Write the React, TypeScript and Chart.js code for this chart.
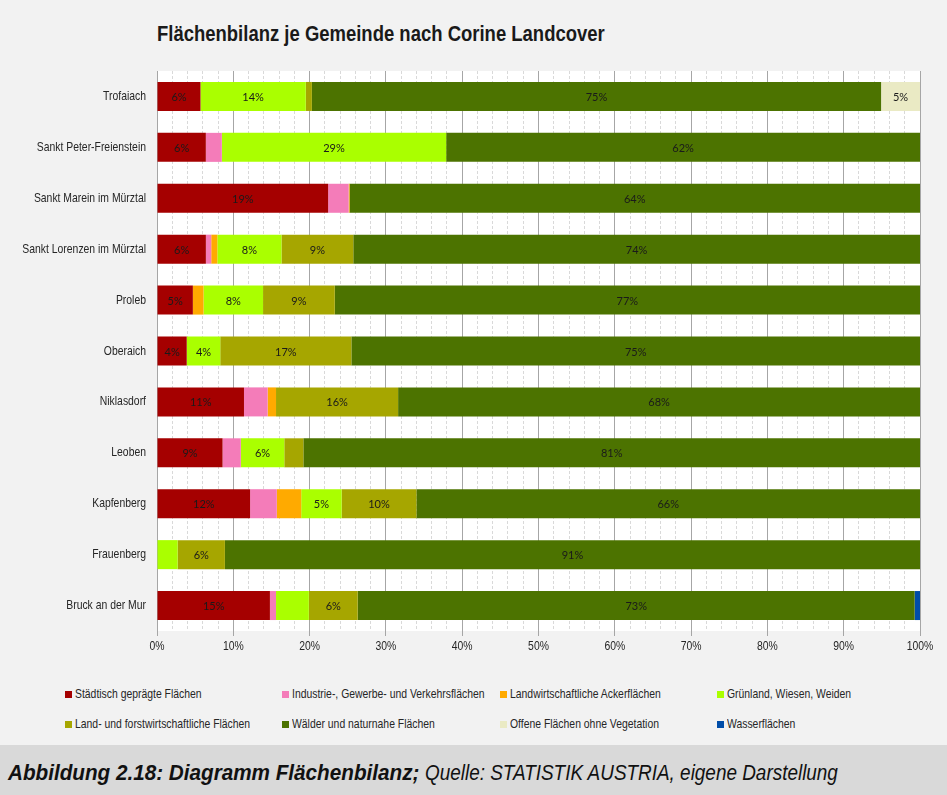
import React, { useEffect, useRef } from "react";
import { Chart, registerables } from "chart.js";

Chart.register(...registerables);

const categories = [
  "Trofaiach",
  "Sankt Peter-Freienstein",
  "Sankt Marein im Mürztal",
  "Sankt Lorenzen im Mürztal",
  "Proleb",
  "Oberaich",
  "Niklasdorf",
  "Leoben",
  "Kapfenberg",
  "Frauenberg",
  "Bruck an der Mur",
];

const seriesNames = [
  "Städtisch geprägte Flächen",
  "Industrie-, Gewerbe- und Verkehrsflächen",
  "Landwirtschaftliche Ackerflächen",
  "Grünland, Wiesen, Weiden",
  "Land- und forstwirtschaftliche Flächen",
  "Wälder und naturnahe Flächen",
  "Offene Flächen ohne Vegetation",
  "Wasserflächen",
];

const seriesColors = [
  "#a50000",
  "#f47cb9",
  "#ffaa00",
  "#aaff00",
  "#a6a600",
  "#4c7300",
  "#eaeac4",
  "#004da8",
];

// raw shares (percent) per municipality, same order as categories
const staedtisch = [5.7, 6.4, 19.2, 6.4, 4.7, 3.9, 11.4, 8.6, 12.2, 0, 14.8];
const industrie = [0, 2.1, 2.3, 0.7, 0, 0, 3.1, 2.4, 3.5, 0, 0.8];
const acker = [0, 0, 0.1, 0.8, 1.4, 0, 1.1, 0, 3.2, 0, 0];
const gruenland = [13.8, 29.4, 0, 8.4, 7.8, 4.4, 0, 5.7, 5.3, 2.7, 4.3];
const landForst = [0.8, 0, 0, 9.4, 9.4, 17.2, 16.0, 2.5, 9.8, 6.2, 6.4];
const waelder = [74.6, 62.1, 64, 74.2, 76.7, 74.6, 68.4, 80.9, 66.0, 91.1, 73.0];
const offene = [5.1, 0, 0, 0, 0, 0, 0, 0, 0, 0, 0];
const wasser = [0, 0, 0, 0, 0, 0, 0, 0, 0, 0, 0.7];

const seriesValues = [staedtisch, industrie, acker, gruenland, landForst, waelder, offene, wasser];

// labels shown for shares at or above this value, minus explicit exceptions
const labelThreshold = 3.8;
const hiddenLabels = [[10, 3]]; // [category index, series index]

const xTicks = [0, 10, 20, 30, 40, 50, 60, 70, 80, 90, 100];

const sans = '"Liberation Sans", Arial, sans-serif';
const narrowScale = 0.8;

export default function App() {
  const canvasRef = useRef<HTMLCanvasElement | null>(null);

  useEffect(() => {
    document.body.style.margin = "0";
    const canvas = canvasRef.current;
    if (!canvas) return;

    const totals = categories.map((_, i) =>
      seriesValues.reduce((s, arr) => s + arr[i], 0)
    );

    const datasets = seriesNames.map((name, si) => ({
      label: name,
      data: seriesValues[si].map((v, i) => (v / totals[i]) * 100),
      raw: seriesValues[si],
      backgroundColor: seriesColors[si],
      borderWidth: 0,
      categoryPercentage: 0.57,
      barPercentage: 1,
    }));

    const plotBg = {
      id: "plotBg",
      beforeDraw(chart: any) {
        const { ctx, chartArea } = chart;
        ctx.save();
        ctx.fillStyle = "#ffffff";
        ctx.fillRect(chartArea.left, chartArea.top, chartArea.right - chartArea.left, chartArea.bottom - chartArea.top);
        ctx.restore();
      },
    };

    const barLabels = {
      id: "barLabels",
      afterDatasetsDraw(chart: any) {
        const { ctx } = chart;
        ctx.save();
        ctx.font = '11px Lato, "Open Sans", sans-serif';
        ctx.fillStyle = "#1a1a1a";
        ctx.textAlign = "center";
        ctx.textBaseline = "middle";
        chart.data.datasets.forEach((ds: any, si: number) => {
          const meta = chart.getDatasetMeta(si);
          meta.data.forEach((bar: any, i: number) => {
            const raw = ds.raw[i];
            if (raw < labelThreshold) return;
            if (hiddenLabels.some(([c, s]) => c === i && s === si)) return;
            const cx = (bar.x + bar.base) / 2;
            ctx.fillText(Math.round(raw) + "%", cx, bar.y + 1);
          });
        });
        ctx.restore();
      },
    };

    // condensed axis labels (scaled horizontally, like Arial Narrow)
    const axisLabels = {
      id: "axisLabels",
      afterDraw(chart: any) {
        const { ctx, chartArea } = chart;
        const xs = chart.scales.x;
        const ys = chart.scales.y;
        ctx.save();
        ctx.font = "13px " + sans;
        ctx.fillStyle = "#262626";
        ctx.textBaseline = "middle";
        ctx.textAlign = "right";
        (chart.data.labels as string[]).forEach((c, i) => {
          const y = ys.getPixelForValue(i);
          ctx.save();
          ctx.translate(chartArea.left - 11, y);
          ctx.scale(narrowScale, 1);
          ctx.fillText(c, 0, 0);
          ctx.restore();
        });
        ctx.textAlign = "center";
        xTicks.forEach((v) => {
          const x = xs.getPixelForValue(v);
          ctx.save();
          ctx.translate(x, chartArea.bottom + 15);
          ctx.scale(narrowScale, 1);
          ctx.fillText(v + "%", 0, 0);
          ctx.restore();
        });
        ctx.restore();
      },
    };

    const isMajor = (ctx: any) => ctx.tick && xTicks.includes(Math.round(ctx.tick.value));

    const chart = new Chart(canvas, {
      type: "bar",
      data: { labels: categories, datasets: datasets as any },
      options: {
        indexAxis: "y",
        animation: false,
        responsive: false,
        devicePixelRatio: 1,
        layout: { padding: { top: 71, right: 27, left: 0, bottom: 0 } },
        plugins: {
          legend: { display: false },
          tooltip: { enabled: false },
          title: { display: false },
        },
        scales: {
          x: {
            stacked: true,
            min: 0,
            max: 100,
            afterFit(scale: any) {
              scale.height = 49;
            },
            ticks: {
              display: false,
              stepSize: 2,
              autoSkip: false,
              maxRotation: 0,
            },
            grid: {
              color: (ctx: any) => (isMajor(ctx) ? "#a6a6a6" : "#d9d9d9"),
              tickColor: (ctx: any) => (isMajor(ctx) ? "#a6a6a6" : "rgba(0,0,0,0)"),
              tickLength: 5,
              lineWidth: 1,
            },
            border: {
              display: false,
              dash: (ctx: any) => (ctx.tick && !isMajor(ctx) ? [3, 2] : []),
            } as any,
          },
          y: {
            stacked: true,
            afterFit(scale: any) {
              scale.width = 157;
            },
            ticks: { display: false },
            grid: { display: false, drawTicks: false },
            border: { display: true, color: "#a6a6a6", width: 1 },
          },
        },
      },
      plugins: [plotBg, barLabels, axisLabels],
    });

    return () => chart.destroy();
  }, []);

  const legendCols = [65, 282, 500, 717];
  const legendBaselines = [698, 728];

  return (
    <div
      style={{
        position: "absolute",
        left: 0,
        top: 0,
        width: 947,
        height: 795,
        background: "#f2f2f2",
        overflow: "hidden",
        fontFamily: sans,
      }}
    >
      <div
        style={{
          position: "absolute",
          left: 157,
          top: 22,
          fontSize: 22,
          fontWeight: "bold",
          lineHeight: "24px",
          color: "#1a1a1a",
          whiteSpace: "nowrap",
          transform: "scaleX(0.84)",
          transformOrigin: "left top",
        }}
      >
        Flächenbilanz je Gemeinde nach Corine Landcover
      </div>
      <canvas
        ref={canvasRef}
        width={947}
        height={680}
        style={{ position: "absolute", left: 0, top: 0, width: 947, height: 680 }}
      />
      {seriesNames.map((name, si) => {
        const col = si % 4;
        const row = Math.floor(si / 4);
        const base = legendBaselines[row];
        return (
          <React.Fragment key={name}>
            <div
              style={{
                position: "absolute",
                left: legendCols[col],
                top: base - 7,
                width: 7,
                height: 7,
                background: seriesColors[si],
              }}
            />
            <div
              style={{
                position: "absolute",
                left: legendCols[col] + 10,
                top: base - 12.5,
                fontSize: 13,
                lineHeight: "16px",
                color: "#262626",
                whiteSpace: "nowrap",
                transform: `scaleX(${narrowScale})`,
                transformOrigin: "left top",
              }}
            >
              {name}
            </div>
          </React.Fragment>
        );
      })}
      <div
        style={{
          position: "absolute",
          left: 0,
          top: 745,
          width: 947,
          height: 50,
          background: "#d9d9d9",
        }}
      >
        <div
          style={{
            position: "absolute",
            left: 8,
            top: 16,
            fontSize: 22,
            lineHeight: "24px",
            fontStyle: "italic",
            fontWeight: "bold",
            color: "#111111",
            whiteSpace: "nowrap",
            transform: "scaleX(0.94)",
            transformOrigin: "left top",
          }}
        >
          Abbildung 2.18: Diagramm Flächenbilanz;
        </div>
        <div
          style={{
            position: "absolute",
            left: 425,
            top: 16,
            fontSize: 22,
            lineHeight: "24px",
            fontStyle: "italic",
            color: "#111111",
            whiteSpace: "nowrap",
            transform: "scaleX(0.86)",
            transformOrigin: "left top",
          }}
        >
          Quelle: STATISTIK AUSTRIA, eigene Darstellung
        </div>
      </div>
    </div>
  );
}
